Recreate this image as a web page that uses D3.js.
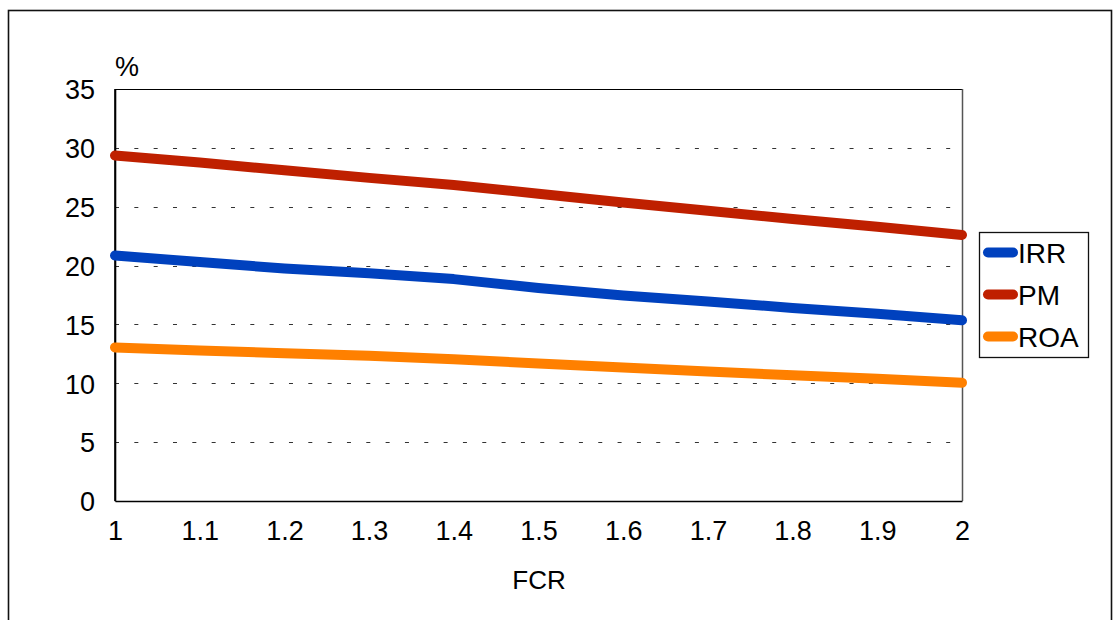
<!DOCTYPE html>
<html>
<head>
<meta charset="utf-8">
<script src="https://cdnjs.cloudflare.com/ajax/libs/d3/7.8.5/d3.min.js"></script>
<style>
  html, body { margin: 0; padding: 0; background: #fff; }
  svg { display: block; }
  text { font-family: "Liberation Sans", Arial, Helvetica, sans-serif; fill: #000; }
</style>
</head>
<body>
<svg id="chart" width="1119" height="620"></svg>
<script>
// ---- data ----
const fcr = [1.0, 1.1, 1.2, 1.3, 1.4, 1.5, 1.6, 1.7, 1.8, 1.9, 2.0];
const irr = [20.85, 20.3, 19.75, 19.35, 18.85, 18.1, 17.45, 16.95, 16.4, 15.9, 15.35];
const pm  = [29.35, 28.75, 28.1, 27.45, 26.85, 26.1, 25.35, 24.65, 23.95, 23.3, 22.6];
const roa = [13.05, 12.78, 12.55, 12.33, 12.05, 11.68, 11.35, 11.0, 10.68, 10.38, 10.05];
const seriesNames = ["IRR", "PM", "ROA"];
const seriesColors = ["#0041BE", "#BF2000", "#FF8000"];
const yTicks = [0, 5, 10, 15, 20, 25, 30, 35];
const xTicks = [1, 1.1, 1.2, 1.3, 1.4, 1.5, 1.6, 1.7, 1.8, 1.9, 2];
const yUnit = "%";
const xTitle = "FCR";

const seriesValues = [irr, pm, roa];

// ---- layout ----
const svg = d3.select("#chart");
const L = 115, R = 962, T = 89, B = 501;

const x = d3.scaleLinear().domain([1, 2]).range([L, R]);
const y = d3.scaleLinear().domain([0, 35]).range([B, T]);

// outer frame
svg.append("rect")
  .attr("x", 8.5).attr("y", 10.5)
  .attr("width", 1103).attr("height", 660)
  .attr("fill", "none").attr("stroke", "#111").attr("stroke-width", 1.6);

// gridlines
svg.append("g").selectAll("line")
  .data(yTicks.filter(d => d > 0 && d < 35))
  .join("line")
  .attr("x1", L).attr("x2", R)
  .attr("y1", d => Math.round(y(d)) + 0.5).attr("y2", d => Math.round(y(d)) + 0.5)
  .attr("stroke", "#333").attr("stroke-width", 1.2)
  .attr("stroke-dasharray", "4 15.33");

// plot frame: top & right
svg.append("line").attr("x1", L).attr("x2", R).attr("y1", T + 0.5).attr("y2", T + 0.5)
  .attr("stroke", "#000").attr("stroke-width", 1.2);
svg.append("line").attr("x1", R + 0.5).attr("x2", R + 0.5).attr("y1", T).attr("y2", B)
  .attr("stroke", "#555").attr("stroke-width", 1.5);

// axes
const yAxis = d3.axisLeft(y).tickValues(yTicks).tickSize(0).tickPadding(20)
  .tickFormat(d3.format("d"));
const gy = svg.append("g").attr("transform", `translate(${L},0)`).call(yAxis);
gy.select(".domain").attr("stroke", "#000").attr("stroke-width", 1.6);
gy.selectAll("text").attr("font-size", 27).attr("dy", "0.36em")
  .style("font-family", "'Liberation Sans', Arial, sans-serif");

const xAxis = d3.axisBottom(x).tickValues(xTicks).tickSize(0).tickPadding(20)
  .tickFormat(d => d3.format("~g")(d));
const gx = svg.append("g").attr("transform", `translate(0,${B})`).call(xAxis);
gx.select(".domain").attr("stroke", "#000").attr("stroke-width", 1.6);
gx.selectAll("text").attr("font-size", 27).attr("dy", "0.72em")
  .style("font-family", "'Liberation Sans', Arial, sans-serif");

// left axis line redraw on top
svg.append("line").attr("x1", L).attr("x2", L).attr("y1", T).attr("y2", B)
  .attr("stroke", "#000").attr("stroke-width", 1.6);

// series lines
const line = d3.line().x((d, i) => x(fcr[i])).y(d => y(d));
svg.append("g").selectAll("path")
  .data(seriesValues)
  .join("path")
  .attr("d", d => line(d))
  .attr("fill", "none")
  .attr("stroke", (d, i) => seriesColors[i])
  .attr("stroke-width", 10)
  .attr("stroke-linecap", "round")
  .attr("stroke-linejoin", "round");

// axis titles
svg.append("text").attr("x", 115).attr("y", 76).attr("font-size", 27).text(yUnit);
svg.append("text").attr("x", 539).attr("y", 589).attr("font-size", 26)
  .attr("text-anchor", "middle").text(xTitle);

// legend
const lg = svg.append("g");
lg.append("rect").attr("x", 979.5).attr("y", 232.5).attr("width", 109).attr("height", 125)
  .attr("fill", "#fff").attr("stroke", "#111").attr("stroke-width", 1.3);
const ly = [252.5, 294.5, 336.5];
seriesNames.forEach((name, i) => {
  lg.append("line").attr("x1", 988).attr("x2", 1013).attr("y1", ly[i]).attr("y2", ly[i])
    .attr("stroke", seriesColors[i]).attr("stroke-width", 10).attr("stroke-linecap", "round");
  lg.append("text").attr("x", 1018).attr("y", ly[i]).attr("dy", "0.36em")
    .attr("font-size", 28).text(name);
});
</script>
</body>
</html>
